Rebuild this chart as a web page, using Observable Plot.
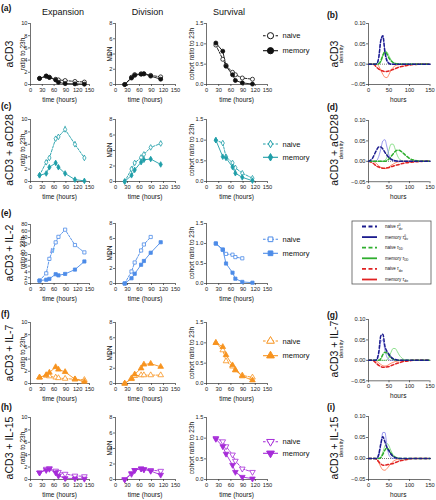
<!DOCTYPE html>
<html><head><meta charset="utf-8">
<script src="https://cdn.jsdelivr.net/npm/d3@7"></script>
<script src="https://cdn.jsdelivr.net/npm/@observablehq/plot@0.6"></script>
<style>
body{margin:0;background:#fff;font-family:"Liberation Sans",Arial,sans-serif;}
#root{position:relative;width:436px;height:500px;overflow:hidden;background:#fff;}
.t{position:absolute;white-space:nowrap;color:#111;line-height:1;}
</style></head>
<body><div id="root"></div>
<script>
// ---------------- data ----------------
const tExp = [23, 40, 48, 64, 71, 88, 113, 137];
const tDiv = [23, 40, 48, 64, 71, 88, 113];
const tSurv = [23, 40, 48, 64, 71, 88, 113];
const seriesNames = ["naive", "memory"];

// (a) aCD3
const aExpNaive = [1.0, 1.35, 1.2, 0.85, 0.75, 0.65, 0.5, 0.4];
const aExpMemory = [1.0, 1.4, 1.15, 0.75, 0.35, 0.15, 0.1, 0.05];
const aDivNaive = [0, 0.95, 1.3, 1.4, 1.4, 1.2, 1.0];
const aDivMemory = [0, 0.85, 1.2, 1.35, 1.4, 1.1, 0.7];
const aSurvNaive = [0.97, 0.62, 0.47, 0.3, 0.24, 0.16, 0.13];
const aSurvMemory = [1.02, 0.82, 0.45, 0.24, 0.1, 0.04, 0.01];
// (c) aCD3 + aCD28
const cExpNaive = [1.0, 3.1, 3.8, 6.9, 7.2, 8.4, 6.0, 3.8];
const cExpNaiveErr = [0, 0.3, 0.2, 0.3, 0.3, 0.5, 0.4, 0.4];
const cExpMemory = [1.0, 1.3, 2.3, 3.0, 2.3, 1.3, 0.3, 0.1];
const cDivNaive = [0, 1.6, 2.4, 3.1, 3.5, 4.4, 4.9];
const cDivNaiveErr = [0, 0, 0, 0, 0, 0, 0.3];
const cDivMemory = [0, 0.8, 1.5, 2.5, 2.8, 2.9, 2.2];
const cSurvNaive = [1.0, 0.93, 0.6, 0.45, 0.33, 0.2, 0.08];
const cSurvMemory = [1.0, 0.6, 0.57, 0.35, 0.2, 0.1, 0.02];
// (e) aCD3 + IL-2
const eExpNaive = [1.0, 3.5, 8.5, 25, 42, 64, 19, 12];
const eExpMemory = [1.0, 1.3, 1.6, 3.2, 2.8, 3.3, 4.8, 7.6];
const eDivNaive = [0, 1.6, 2.8, 4.4, 5.2, 6.2];
const eDivMemory = [0, 0.7, 1.3, 2.5, 3.0, 4.1, 5.5];
const eSurvNaive = [1.0, 0.84, 0.74, 0.72, 0.66, 0.63];
const eSurvMemory = [1.0, 0.85, 0.5, 0.27, 0.12, 0.04, 0.02];
const eBreakMark = [{t: 55, v: 14}];
// (f) aCD3 + IL-7
const fExpNaive = [1.0, 1.3, 1.2, 1.0, 0.9, 0.8, 0.7, 0.6];
const fExpMemory = [1.0, 1.4, 1.8, 2.7, 2.3, 1.9, 0.7, 0.3];
const fDivNaive = [0, 0.7, 1.0, 1.1, 1.1, 1.1, 1.1];
const fDivMemory = [0, 0.6, 1.2, 2.0, 2.5, 2.6, 2.2];
const fSurvNaive = [1.0, 0.82, 0.55, 0.42, 0.33, 0.2, 0.15];
const fSurvMemory = [1.0, 0.9, 0.7, 0.45, 0.33, 0.18, 0.08];
// (h) aCD3 + IL-15
const hExpNaive = [1.1, 1.7, 1.8, 1.4, 1.2, 0.9, 0.6, 0.5];
const hExpMemory = [1.1, 1.5, 1.7, 1.1, 0.6, 0.2, 0.15, 0.1];
const hDivNaive = [0, 0.7, 1.2, 1.4, 1.3, 1.2, 1.1];
const hDivMemory = [0, 0.8, 1.2, 1.4, 1.3, 1.1, 0.6];
const hSurvNaive = [1.0, 0.92, 0.8, 0.6, 0.45, 0.26, 0.18];
const hSurvMemory = [0.98, 0.8, 0.62, 0.35, 0.18, 0.06, 0.02];

// density curves (hours grid)
const tDens = [0,10,15,20,25,30,35,40,45,50,55,60,65,70,75,80,90,100,110,120,135,150];
const bNaiveDiv = [0,0,0,0.001,0.016,0.058,0.07,0.03,0.008,0.002,0,0,0,0,0,0,0,0,0,0,0,0];
const bMemDiv   = [0,0,0,0.001,0.018,0.06,0.066,0.035,0.012,0.003,0.001,0,0,0,0,0,0,0,0,0,0,0];
const bNaiveDD  = [0,0,0,0,0.001,0.008,0.022,0.03,0.025,0.015,0.008,0.004,0.002,0.001,0,0,0,0,0,0,0,0];
const bMemDD    = [0,0,0,0,0,0.005,0.02,0.032,0.03,0.02,0.011,0.005,0.002,0.001,0,0,0,0,0,0,0,0];
const bNaiveDie = [0,0,-0.002,-0.008,-0.012,-0.015,-0.017,-0.018,-0.018,-0.017,-0.015,-0.013,-0.011,-0.009,-0.007,-0.006,-0.004,-0.002,-0.001,-0.0005,0,0];
const bMemDie   = [0,0,0,0,-0.005,-0.015,-0.025,-0.032,-0.033,-0.025,-0.015,-0.008,-0.004,-0.002,-0.001,0,0,0,0,0,0,0];

const dNaiveDiv = [0,0.008,0.018,0.028,0.035,0.035,0.03,0.022,0.015,0.009,0.005,0.003,0.0015,0.0005,0,0,0,0,0,0,0,0];
const dMemDiv   = [0,0,0,0.002,0.012,0.03,0.05,0.053,0.035,0.015,0.005,0.001,0,0,0,0,0,0,0,0,0,0];
const dNaiveDD  = [0,0,0,0,0,0,0,0,0.002,0.006,0.012,0.018,0.024,0.027,0.027,0.024,0.015,0.007,0.003,0.001,0,0];
const dMemDD    = [0,0,0,0,0,0,0,0.002,0.01,0.028,0.042,0.042,0.03,0.015,0.006,0.002,0,0,0,0,0,0];
const dNaiveDie = [0,-0.004,-0.008,-0.012,-0.014,-0.016,-0.017,-0.017,-0.016,-0.015,-0.013,-0.012,-0.01,-0.009,-0.008,-0.006,-0.004,-0.0025,-0.0015,-0.001,0,0];
const dMemDie   = [0,0,-0.002,-0.006,-0.011,-0.015,-0.017,-0.018,-0.017,-0.014,-0.01,-0.007,-0.004,-0.002,-0.001,0,0,0,0,0,0,0];

const gNaiveDiv = [0,0,0,0.002,0.02,0.06,0.064,0.035,0.022,0.015,0.008,0.004,0.002,0.001,0,0,0,0,0,0,0,0];
const gMemDiv   = [0,0,0,0.001,0.015,0.045,0.05,0.025,0.008,0.002,0,0,0,0,0,0,0,0,0,0,0,0];
const gNaiveDD  = [0,0,0,0,0,0.004,0.014,0.02,0.018,0.012,0.006,0.003,0.001,0,0,0,0,0,0,0,0,0];
const gMemDD    = [0,0,0,0,0,0,0,0,0.001,0.008,0.02,0.029,0.029,0.022,0.013,0.007,0.001,0,0,0,0,0];
const gNaiveDie = [0,0,-0.003,-0.008,-0.012,-0.015,-0.017,-0.017,-0.016,-0.015,-0.013,-0.011,-0.009,-0.007,-0.006,-0.004,-0.002,-0.001,0,0,0,0];
const gMemDie   = [0,0,0,-0.002,-0.006,-0.01,-0.013,-0.014,-0.013,-0.01,-0.007,-0.005,-0.003,-0.002,-0.001,0,0,0,0,0,0,0];

const iNaiveDiv = [0,0,0,0,0.01,0.035,0.052,0.04,0.026,0.018,0.01,0.005,0.002,0.001,0,0,0,0,0,0,0,0];
const iMemDiv   = [0,0,0,0,0.006,0.03,0.062,0.062,0.03,0.008,0.002,0,0,0,0,0,0,0,0,0,0,0];
const iNaiveDD  = [0,0,0,0,0,0.002,0.01,0.02,0.025,0.02,0.012,0.006,0.003,0.001,0,0,0,0,0,0,0,0];
const iMemDD    = [0,0,0,0,0,0.003,0.015,0.03,0.036,0.03,0.018,0.009,0.004,0.002,0.001,0,0,0,0,0,0,0];
const iNaiveDie = [0,0,0,-0.002,-0.008,-0.013,-0.016,-0.016,-0.015,-0.014,-0.013,-0.012,-0.01,-0.008,-0.006,-0.005,-0.003,-0.001,0,0,0,0];
const iMemDie   = [0,0,0,-0.002,-0.01,-0.02,-0.027,-0.028,-0.024,-0.018,-0.012,-0.007,-0.004,-0.002,-0.001,0,0,0,0,0,0,0];

const xTicksTime = [0, 30, 60, 90, 120, 150];
const xTicksDens = [0, 50, 100, 150];
const expTicks = [0, 2, 4, 6, 8, 10];
const expTicksBroken = [0, 2, 4, 6, 8, 10, 20, 40, 60, 80];
const divTicks = [0, 2, 4, 6, 8];
const survTicks = [0, 0.5, 1.0, 1.5];
const densTicks = [-0.05, 0, 0.05, 0.10];

// ---------------- layout / style ----------------
const root = document.getElementById("root");
const FONT = '"Liberation Sans", Arial, Helvetica, sans-serif';
const AX = "#333";
const TICKFS = 5.7;
const ML = 30, MR = 8, MT = 6, MB = 14;
const COL = {exp: [30, 89], div: [115, 175], surv: [206, 267], dens: [367.5, 429]};
const C = {black: "#111111", teal: "#1f9ea8", blue: "#4d8ce8", orange: "#f7931e", purple: "#a62bd8"};
const DC = {navy: "#1c1c8e", blueThin: "#6e6ee6", green: "#2fae2f", greenThin: "#5fd35f", red: "#e02222", redThin: "#ff5a2c"};
const SYMR = {circle: 2.0, diamond: 1.7, square: 1.8, triangle: 2.1};

const zip = (ts, vs, es) => vs.map((v, i) => ({t: ts[i], v, e: es ? es[i] : 0}));

// broken-axis mapping for (e) expansion: 0-10 lower part, 20-80 upper part
const brk = v => v <= 10 ? v * 2.9 : v < 20 ? 29 + (v - 10) * 1.05 : 39.5 + (v - 20) * (19.5 / 60);

function mount(svg, x0, yTop) {
  svg.style.position = "absolute";
  svg.style.left = (x0 - ML) + "px";
  svg.style.top = (yTop - MT) + "px";
  root.appendChild(svg);
}
function styleObj() {
  return {background: "none", fontFamily: FONT, fontSize: TICKFS + "px", color: "#222", overflow: "visible"};
}

function dataPanel(p) {
  const [x0, x1] = p.col;
  const pw = x1 - x0, ph = p.bot - p.top;
  const ym = p.yMap || (v => v);
  const yTickVals = p.yTicks.map(ym);
  const tickLbl = new Map(yTickVals.map((d, i) => [d, p.yTicks[i]]));
  const fmt = p.yFmt || (d => String(d));
  const marks = [
    Plot.ruleY([ym(p.yDomain[0])], {stroke: AX, strokeWidth: 0.7}),
    p.axisSegs ? Plot.ruleX(p.axisSegs, {x: "x", y1: d => ym(d.a), y2: d => ym(d.b), stroke: AX, strokeWidth: 0.7})
               : Plot.ruleX([0], {stroke: AX, strokeWidth: 0.7}),
    Plot.axisX({ticks: xTicksTime, tickSize: 2, tickPadding: 1, fontSize: TICKFS, label: null, stroke: AX, strokeWidth: 0.7}),
    Plot.axisY({ticks: yTickVals, tickSize: 2, tickPadding: 1, fontSize: TICKFS, label: null,
      tickFormat: d => fmt(tickLbl.has(d) ? tickLbl.get(d) : d), stroke: AX, strokeWidth: 0.7})
  ];
  for (const s of p.series) {
    if (s.err) marks.push(Plot.ruleX(s.data.filter(d => d.e > 0), {x: "t", y1: d => ym(d.v - d.e), y2: d => ym(d.v + d.e), stroke: p.color, strokeWidth: 0.7}));
    marks.push(Plot.line(s.data, {x: "t", y: d => ym(d.v), stroke: p.color, strokeWidth: 0.9, strokeDasharray: s.naive ? "2.4,1.4" : undefined}));
  }
  if (p.extra) marks.push(...p.extra);
  for (const s of p.series) {
    const o = {x: "t", y: d => ym(d.v), symbol: p.symbol, r: SYMR[p.symbol], fill: s.naive ? "white" : p.color, stroke: p.color, strokeWidth: 0.8};
    if (p.rotate) o.rotate = p.rotate;
    marks.push(Plot.dot(s.data, o));
  }
  const svg = Plot.plot({
    width: ML + pw + MR, height: MT + ph + MB,
    marginLeft: ML, marginRight: MR, marginTop: MT, marginBottom: MB,
    x: {domain: [0, 150]}, y: {domain: p.yDomain.map(ym)}, style: styleObj(), marks
  });
  mount(svg, x0, p.top);
}

function densPanel(top, bot, cv) {
  const [x0, x1] = COL.dens;
  const pw = x1 - x0, ph = bot - top;
  const L = (vals, stroke, w, dash) => Plot.line(zip(tDens, vals), {x: "t", y: "v", stroke, strokeWidth: w, strokeDasharray: dash, curve: "monotone-x"});
  const marks = [
    Plot.ruleY([-0.05], {stroke: AX, strokeWidth: 0.7}),
    Plot.ruleX([0], {stroke: AX, strokeWidth: 0.7}),
    Plot.axisX({ticks: xTicksDens, tickSize: 2, tickPadding: 1, fontSize: TICKFS, label: null, stroke: AX, strokeWidth: 0.7}),
    Plot.axisY({ticks: densTicks, tickSize: 2, tickPadding: 1, fontSize: TICKFS, label: null, tickFormat: d3.format(".2f"), stroke: AX, strokeWidth: 0.7}),
    Plot.ruleY([0], {stroke: "#111", strokeWidth: 0.7, strokeDasharray: "0.8,1.2"}),
    L(cv.memDie, DC.redThin, 0.7), L(cv.memDD, DC.greenThin, 0.7), L(cv.memDiv, DC.blueThin, 0.7),
    L(cv.naiveDie, DC.red, 1.5, "3,2"), L(cv.naiveDD, DC.green, 1.5, "3,2"), L(cv.naiveDiv, DC.navy, 1.5, "3,2")
  ];
  const svg = Plot.plot({
    width: ML + pw + MR, height: MT + ph + MB,
    marginLeft: ML, marginRight: MR, marginTop: MT, marginBottom: MB,
    x: {domain: [0, 150]}, y: {domain: [-0.05, 0.10]}, style: styleObj(), marks
  });
  mount(svg, x0, top);
}

function label(text, x, y, o = {}) {
  const d = document.createElement("div");
  d.className = "t";
  d.textContent = text;
  d.style.left = x + "px"; d.style.top = y + "px";
  d.style.fontSize = (o.size || 7) + "px";
  d.style.fontWeight = o.weight || "normal";
  const tx = o.anchor === "start" ? "0" : o.anchor === "end" ? "-100%" : "-50%";
  d.style.transform = `translate(${tx},-50%)` + (o.rot ? " rotate(-90deg)" : "");
  root.appendChild(d);
}

// ---------------- rows ----------------
const rows = [
  {tag: "(a)", tagY: 8, name: "aCD3", top: 23, bot: 84, color: C.black, symbol: "circle",
   exp: [aExpNaive, aExpMemory], div: [aDivNaive, aDivMemory], surv: [aSurvNaive, aSurvMemory], legY: [35.7, 50.7]},
  {tag: "(c)", tagY: 106, name: "aCD3 + aCD28", top: 119, bot: 181, color: C.teal, symbol: "diamond",
   exp: [cExpNaive, cExpMemory], div: [cDivNaive, cDivMemory], surv: [cSurvNaive, cSurvMemory], legY: [144, 157.3],
   expErr: cExpNaiveErr, divErr: cDivNaiveErr},
  {tag: "(e)", tagY: 213, name: "aCD3 + IL-2", top: 223, bot: 283, color: C.blue, symbol: "square",
   exp: [eExpNaive, eExpMemory], div: [eDivNaive, eDivMemory], surv: [eSurvNaive, eSurvMemory], legY: [239.3, 253.3], broken: true},
  {tag: "(f)", tagY: 314, name: "aCD3 + IL-7", top: 322, bot: 383, color: C.orange, symbol: "triangle",
   exp: [fExpNaive, fExpMemory], div: [fDivNaive, fDivMemory], surv: [fSurvNaive, fSurvMemory], legY: [341, 355.7]},
  {tag: "(h)", tagY: 407, name: "aCD3 + IL-15", top: 417, bot: 479, color: C.purple, symbol: "triangle", rotate: 180,
   exp: [hExpNaive, hExpMemory], div: [hDivNaive, hDivMemory], surv: [hSurvNaive, hSurvMemory], legY: [441.7, 453.3]}
];

for (const r of rows) {
  const mk = (ts, pair, err) => [
    {naive: true, data: zip(ts, pair[0], err), err: !!err},
    {naive: false, data: zip(ts, pair[1])}
  ];
  if (r.broken) {
    dataPanel({col: COL.exp, top: 224, bot: r.bot, yDomain: [0, 80], yMap: brk, yTicks: expTicksBroken,
      axisSegs: [{x: 0, a: 0, b: 10}, {x: 0, a: 20, b: 80}],
      series: mk(tExp, r.exp), color: r.color, symbol: r.symbol,
      extra: [Plot.text(eBreakMark, {x: "t", y: d => brk(d.v), text: () => "//", fontSize: 8, fill: r.color, fontWeight: "bold"})]});
  } else {
    dataPanel({col: COL.exp, top: r.top, bot: r.bot, yDomain: [0, 10], yTicks: expTicks,
      series: mk(tExp, r.exp, r.expErr), color: r.color, symbol: r.symbol, rotate: r.rotate});
  }
  dataPanel({col: COL.div, top: r.top, bot: r.bot, yDomain: [0, 8], yTicks: divTicks,
    series: mk(tDiv, r.div, r.divErr), color: r.color, symbol: r.symbol, rotate: r.rotate});
  dataPanel({col: COL.surv, top: r.top, bot: r.bot, yDomain: [0, 1.5], yTicks: survTicks, yFmt: d3.format(".1f"),
    series: mk(tSurv, r.surv), color: r.color, symbol: r.symbol, rotate: r.rotate});

  const cy = (r.top + r.bot) / 2;
  label(r.tag, 1, r.tagY, {size: 8.5, weight: "bold", anchor: "start"});
  label(r.name, 8.5, cy, {size: 10.5, rot: true});
  label("ratio to 23h", 23, cy, {size: 6.5, rot: true});
  label("MDN", 110, cy, {size: 6.5, rot: true});
  label("cohort ratio to 23h", 192, cy, {size: 6.5, rot: true});
  for (const c of [COL.exp, COL.div, COL.surv]) label("time (hours)", (c[0] + c[1]) / 2, r.bot + 15.5, {size: 6.5});
}

// density panels
const densRows = [
  {tag: "(b)", tagY: 15, name: "aCD3", top: 23, bot: 84,
   cv: {naiveDiv: bNaiveDiv, memDiv: bMemDiv, naiveDD: bNaiveDD, memDD: bMemDD, naiveDie: bNaiveDie, memDie: bMemDie}},
  {tag: "(d)", tagY: 107, name: "aCD3 + aCD28", top: 119.5, bot: 180.7,
   cv: {naiveDiv: dNaiveDiv, memDiv: dMemDiv, naiveDD: dNaiveDD, memDD: dMemDD, naiveDie: dNaiveDie, memDie: dMemDie}},
  {tag: "(g)", tagY: 315, name: "aCD3 + IL-7", top: 318.7, bot: 380,
   cv: {naiveDiv: gNaiveDiv, memDiv: gMemDiv, naiveDD: gNaiveDD, memDD: gMemDD, naiveDie: gNaiveDie, memDie: gMemDie}},
  {tag: "(i)", tagY: 407, name: "aCD3 + IL-15", top: 416, bot: 479,
   cv: {naiveDiv: iNaiveDiv, memDiv: iMemDiv, naiveDD: iNaiveDD, memDD: iMemDD, naiveDie: iNaiveDie, memDie: iMemDie}}
];
for (const r of densRows) {
  densPanel(r.top, r.bot, r.cv);
  const cy = (r.top + r.bot) / 2;
  label(r.tag, 327, r.tagY, {size: 8.5, weight: "bold", anchor: "start"});
  label(r.name, 333.5, cy, {size: 10.5, rot: true});
  label("density", 341.5, cy, {size: 5.8, rot: true});
  label("hours", (COL.dens[0] + COL.dens[1]) / 2, r.bot + 16, {size: 6.5});
}

// headers
label("Expansion", 63, 12, {size: 9});
label("Division", 147.5, 12, {size: 9});
label("Survival", 229, 12, {size: 9});

// ---------------- legends ----------------
const ov = d3.select(root).append("svg").attr("width", 436).attr("height", 500)
  .style("position", "absolute").style("left", "0px").style("top", "0px").style("overflow", "visible");
const symMap = {circle: d3.symbolCircle, diamond: d3.symbolDiamond, square: d3.symbolSquare, triangle: d3.symbolTriangle};
const symSize = {circle: 30, diamond: 16, square: 22, triangle: 26};
for (const r of rows) {
  seriesNames.forEach((nm, i) => {
    const y = r.legY[i];
    ov.append("line").attr("x1", 263).attr("x2", 278).attr("y1", y).attr("y2", y)
      .attr("stroke", r.color).attr("stroke-width", 1.1).attr("stroke-dasharray", i === 0 ? "2.6,1.6" : null);
    ov.append("path").attr("d", d3.symbol(symMap[r.symbol], symSize[r.symbol])())
      .attr("transform", `translate(270.5,${y})` + (r.rotate ? ` rotate(${r.rotate})` : ""))
      .attr("fill", i === 0 ? "white" : r.color).attr("stroke", r.color).attr("stroke-width", 1);
    ov.append("text").attr("x", 282.5).attr("y", y).attr("dy", "0.35em").attr("font-size", 7.5)
      .attr("font-family", FONT).attr("fill", "#111").text(nm);
  });
}
// density legend
const densLegend = [
  {who: "naive", sup: "0", sub: "div", color: DC.navy, dash: true},
  {who: "memory", sup: "0", sub: "div", color: DC.navy, dash: false},
  {who: "naive", sup: "", sub: "DD", color: DC.green, dash: true},
  {who: "memory", sup: "", sub: "DD", color: DC.green, dash: false},
  {who: "naive", sup: "", sub: "die", color: DC.red, dash: true},
  {who: "memory", sup: "", sub: "die", color: DC.red, dash: false}
];
ov.append("rect").attr("x", 352).attr("y", 221).attr("width", 79).attr("height", 63)
  .attr("fill", "white").attr("stroke", "#555").attr("stroke-width", 0.8);
densLegend.forEach((e, i) => {
  const y = 226.5 + i * 10.6;
  ov.append("line").attr("x1", 362).attr("x2", 377).attr("y1", y).attr("y2", y)
    .attr("stroke", e.color).attr("stroke-width", 1.8).attr("stroke-dasharray", e.dash ? "4,2.5" : null);
  const t = ov.append("text").attr("x", 385).attr("y", y).attr("dy", "0.35em").attr("font-size", 4.5)
    .attr("font-family", FONT).attr("fill", "#111");
  t.append("tspan").text(e.who + " ");
  t.append("tspan").attr("font-style", "italic").text("τ");
  if (e.sup) {
    t.append("tspan").attr("font-size", 3).attr("dy", -1.7).text(e.sup);
    t.append("tspan").attr("font-size", 3).attr("dx", -1.7).attr("dy", 3.2).text(e.sub);
  } else {
    t.append("tspan").attr("font-size", 3).attr("dy", 1.2).text(e.sub);
  }
});
</script>
</body></html>
